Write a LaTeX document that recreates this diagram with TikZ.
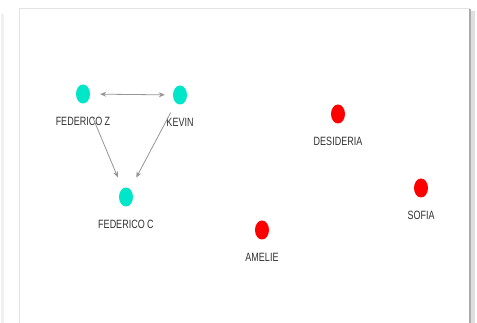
\documentclass[tikz,border=0pt]{standalone}
\usepackage{fontspec}
\usepackage{tikz}
\usetikzlibrary{arrows.meta, positioning, shapes.geometric}
\newfontfamily\netfont[FakeStretch=0.75]{Liberation Sans}
\definecolor{netcyan}{RGB}{0,230,200}
\definecolor{netred}{RGB}{255,0,0}
\definecolor{netgray}{RGB}{150,150,150}
\definecolor{nettext}{RGB}{50,50,50}

\begin{document}
\begin{tikzpicture}[
    x=1pt, y=-1pt,
    actor/.style={ellipse, draw=none, inner sep=0pt,
                  minimum width=14pt, minimum height=19pt},
    tag/.style={font=\netfont\fontsize{12}{12}\selectfont, text=nettext,
                inner sep=0pt},
    tie/.style={draw=netgray, line width=0.8pt},
    >={Stealth[length=6pt, width=5pt]}
]
\useasboundingbox (0,0) rectangle (477,323);
% cornice con ombra
\fill[white] (19,9) rectangle (470,330);
\draw[gray!12, line width=3pt] (2,14) -- (2,330);
\draw[gray!22, line width=1pt] (19,330) -- (19,9) -- (470,9);
\draw[gray!25, line width=5pt] (472,11) -- (472,330);
\draw[gray!65, line width=2pt] (470,9) -- (470,330);
\foreach \id/\x/\y/\col/\txt in {fedz/83/94/netcyan/FEDERICO Z,
    kevin/180/95/netcyan/KEVIN, fedc/126/197/netcyan/FEDERICO C,
    desi/338/114/netred/DESIDERIA, sofia/421/188/netred/SOFIA,
    amelie/262/230/netred/AMELIE}{
    \node[actor, fill=\col] (\id) at (\x,\y) {};
    \node[tag, below=13pt of \id] (\id-tag) {\txt};
}
\draw[tie, <->, shorten <=10pt, shorten >=8pt] (fedz) -- (kevin);
\draw[tie, ->, shorten <=17pt, shorten >=12pt] (fedz) -- (fedc);
\draw[tie, ->, shorten <=11pt, shorten >=13pt] (kevin) -- (fedc);
\end{tikzpicture}
\end{document}
